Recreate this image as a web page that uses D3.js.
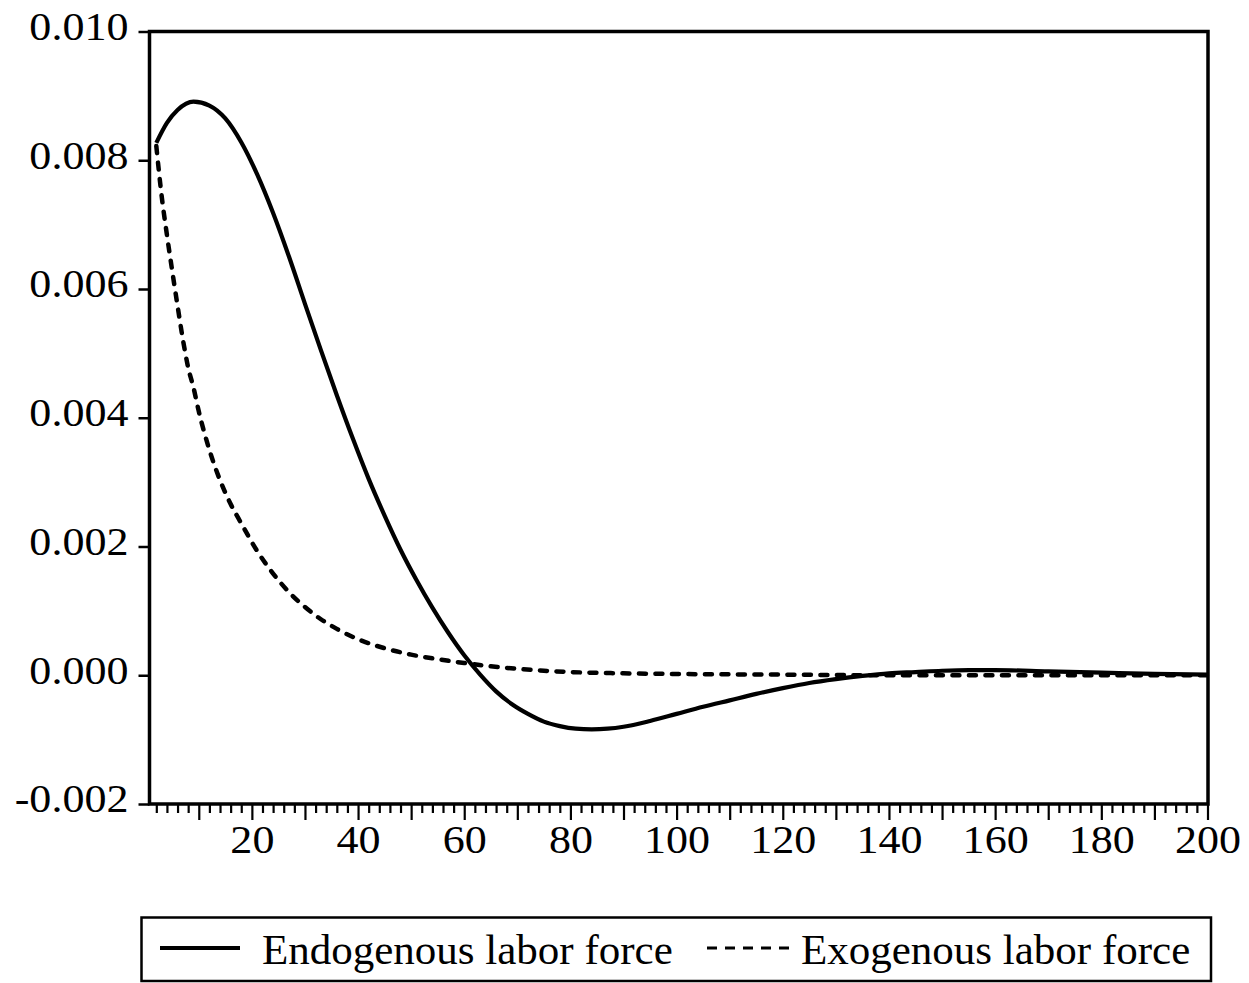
<!DOCTYPE html>
<html>
<head>
<meta charset="utf-8">
<script src="https://cdn.jsdelivr.net/npm/d3@7"></script>
<style>
  html, body { margin: 0; padding: 0; background: #fff; }
  svg { display: block; }
  text { font-family: "Liberation Serif", "Times New Roman", serif; fill: #000; }
</style>
</head>
<body>
<div id="chart"></div>
<script>
// periods and responses
const endoPeriods = [2, 4, 6, 9, 12, 15, 18, 21, 24, 27, 30, 33, 36, 39, 42, 45, 48, 51, 54, 57, 60, 63, 66, 69, 72, 75, 78, 81, 84, 87, 90, 95, 100, 105, 110, 115, 120, 125, 130, 135, 140, 145, 150, 155, 160, 170, 180, 190, 200]
const endoValues = [0.00827, 0.00858, 0.00878, 0.00891, 0.00885, 0.00865, 0.00828, 0.00778, 0.00718, 0.00650, 0.00577, 0.00505, 0.00435, 0.00368, 0.00305, 0.00248, 0.00195, 0.00148, 0.00105, 0.00066, 0.00031, 0.00001, -0.00025, -0.00045, -0.00060, -0.00072, -0.00079, -0.00083, -0.00084, -0.00083, -0.00080, -0.00071, -0.00060, -0.00049, -0.00039, -0.00029, -0.00020, -0.00012, -0.00006, -0.00001, 0.00003, 0.00005, 0.00007, 0.00008, 0.00008, 0.00006, 0.00004, 0.00002, 0.00001]

const exoPeriods = [2, 3, 4, 5, 6, 7, 8, 9, 10, 12, 14, 16, 18, 21, 24, 27, 30, 33, 36, 40, 45, 50, 55, 60, 65, 70, 75, 80, 90, 100, 120, 140, 170, 200]
const exoValues = [0.00822, 0.00745, 0.00684, 0.00628, 0.00574, 0.00522, 0.00478, 0.00447, 0.00410, 0.00350, 0.00303, 0.00266, 0.00236, 0.00193, 0.00158, 0.00129, 0.00106, 0.00087, 0.00072, 0.00056, 0.00042, 0.00032, 0.00025, 0.00019, 0.00014, 0.00010, 0.00007, 0.00005, 0.00003, 0.00002, 0.00001, 0.00000, 0.00000, 0.00000]

const yTicks = [-0.002, 0.000, 0.002, 0.004, 0.006, 0.008, 0.010]
const xTicks = d3.range(2, 201, 2)
const xLabels = [20, 40, 60, 80, 100, 120, 140, 160, 180, 200]

const seriesNames = ['Endogenous labor force', 'Exogenous labor force']

const width = 1249
const height = 983
const frame = {left: 149.5, right: 1208, top: 31.5, bottom: 804}
const stretch = 1.13 // tick labels in the picture are a bit wider than Liberation Serif

const svg = d3.select('#chart').append('svg')
  .attr('width', width)
  .attr('height', height)

svg.append('rect')
  .attr('width', width)
  .attr('height', height)
  .attr('fill', '#fff')

const x = d3.scaleLinear().domain([1, 200]).range([151, 1207.5])
const y = d3.scaleLinear().domain([-0.002, 0.010]).range([frame.bottom, frame.top])

const fmt = d3.formatLocale({decimal: '.', thousands: ',', grouping: [3], currency: ['', ''], minus: '-'}).format('.3f')

// y axis
const yAxis = d3.axisLeft(y)
  .tickValues(yTicks)
  .tickSize(11)
  .tickFormat(fmt)

svg.append('g')
  .attr('transform', 'translate(' + frame.left + ',0)')
  .call(yAxis)
  .call(g => g.select('.domain').remove())
  .call(g => g.selectAll('.tick line').attr('stroke', '#000').attr('stroke-width', 2.5))
  .call(g => g.selectAll('.tick text')
    .attr('x', -21 / stretch)
    .attr('dy', '0.2em')
    .attr('transform', 'scale(' + stretch + ',1)')
    .style('font-size', '39px'))

// x axis: ticks every 2 periods, longer every 10, labels every 20
const xAxis = d3.axisBottom(x)
  .tickValues(xTicks)
  .tickSize(9)
  .tickFormat(d => xLabels.includes(d) ? d : '')

svg.append('g')
  .attr('transform', 'translate(0,' + frame.bottom + ')')
  .call(xAxis)
  .call(g => g.select('.domain').remove())
  .call(g => g.selectAll('.tick line')
    .attr('stroke', '#000')
    .attr('stroke-width', 2.2)
    .attr('y2', d => d % 10 === 0 ? 16 : 9))
  .call(g => g.selectAll('.tick text')
    .attr('y', 49)
    .attr('dy', 0)
    .attr('transform', 'scale(' + stretch + ',1)')
    .style('font-size', '39px'))

// plot frame
svg.append('rect')
  .attr('x', frame.left)
  .attr('y', frame.top)
  .attr('width', frame.right - frame.left)
  .attr('height', frame.bottom - frame.top)
  .attr('fill', 'none')
  .attr('stroke', '#000')
  .attr('stroke-width', 3.5)

const line = d3.line()
  .x(d => x(d[0]))
  .y(d => y(d[1]))
  .curve(d3.curveMonotoneX)

const endo = d3.zip(endoPeriods, endoValues)
const exo = d3.zip(exoPeriods, exoValues)

svg.append('path')
  .datum(exo)
  .attr('d', line)
  .attr('fill', 'none')
  .attr('stroke', '#000')
  .attr('stroke-width', 4.5)
  .attr('stroke-linecap', 'round')
  .attr('stroke-dasharray', '7,9.5')

svg.append('path')
  .datum(endo)
  .attr('d', line)
  .attr('fill', 'none')
  .attr('stroke', '#000')
  .attr('stroke-width', 4.2)

// legend
const legend = svg.append('g')

legend.append('rect')
  .attr('x', 141.5)
  .attr('y', 917.5)
  .attr('width', 1211 - 141.5)
  .attr('height', 981 - 917.5)
  .attr('fill', 'none')
  .attr('stroke', '#000')
  .attr('stroke-width', 2.5)

legend.append('line')
  .attr('x1', 160).attr('x2', 240)
  .attr('y1', 948).attr('y2', 948)
  .attr('stroke', '#000')
  .attr('stroke-width', 4)

legend.append('text')
  .attr('x', 262)
  .attr('y', 964)
  .style('font-size', '43px')
  .text(seriesNames[0])

legend.append('line')
  .attr('x1', 707).attr('x2', 790)
  .attr('y1', 948).attr('y2', 948)
  .attr('stroke', '#000')
  .attr('stroke-width', 3)
  .attr('stroke-dasharray', '10,8')

legend.append('text')
  .attr('x', 801)
  .attr('y', 964)
  .style('font-size', '43px')
  .text(seriesNames[1])
</script>
</body>
</html>
